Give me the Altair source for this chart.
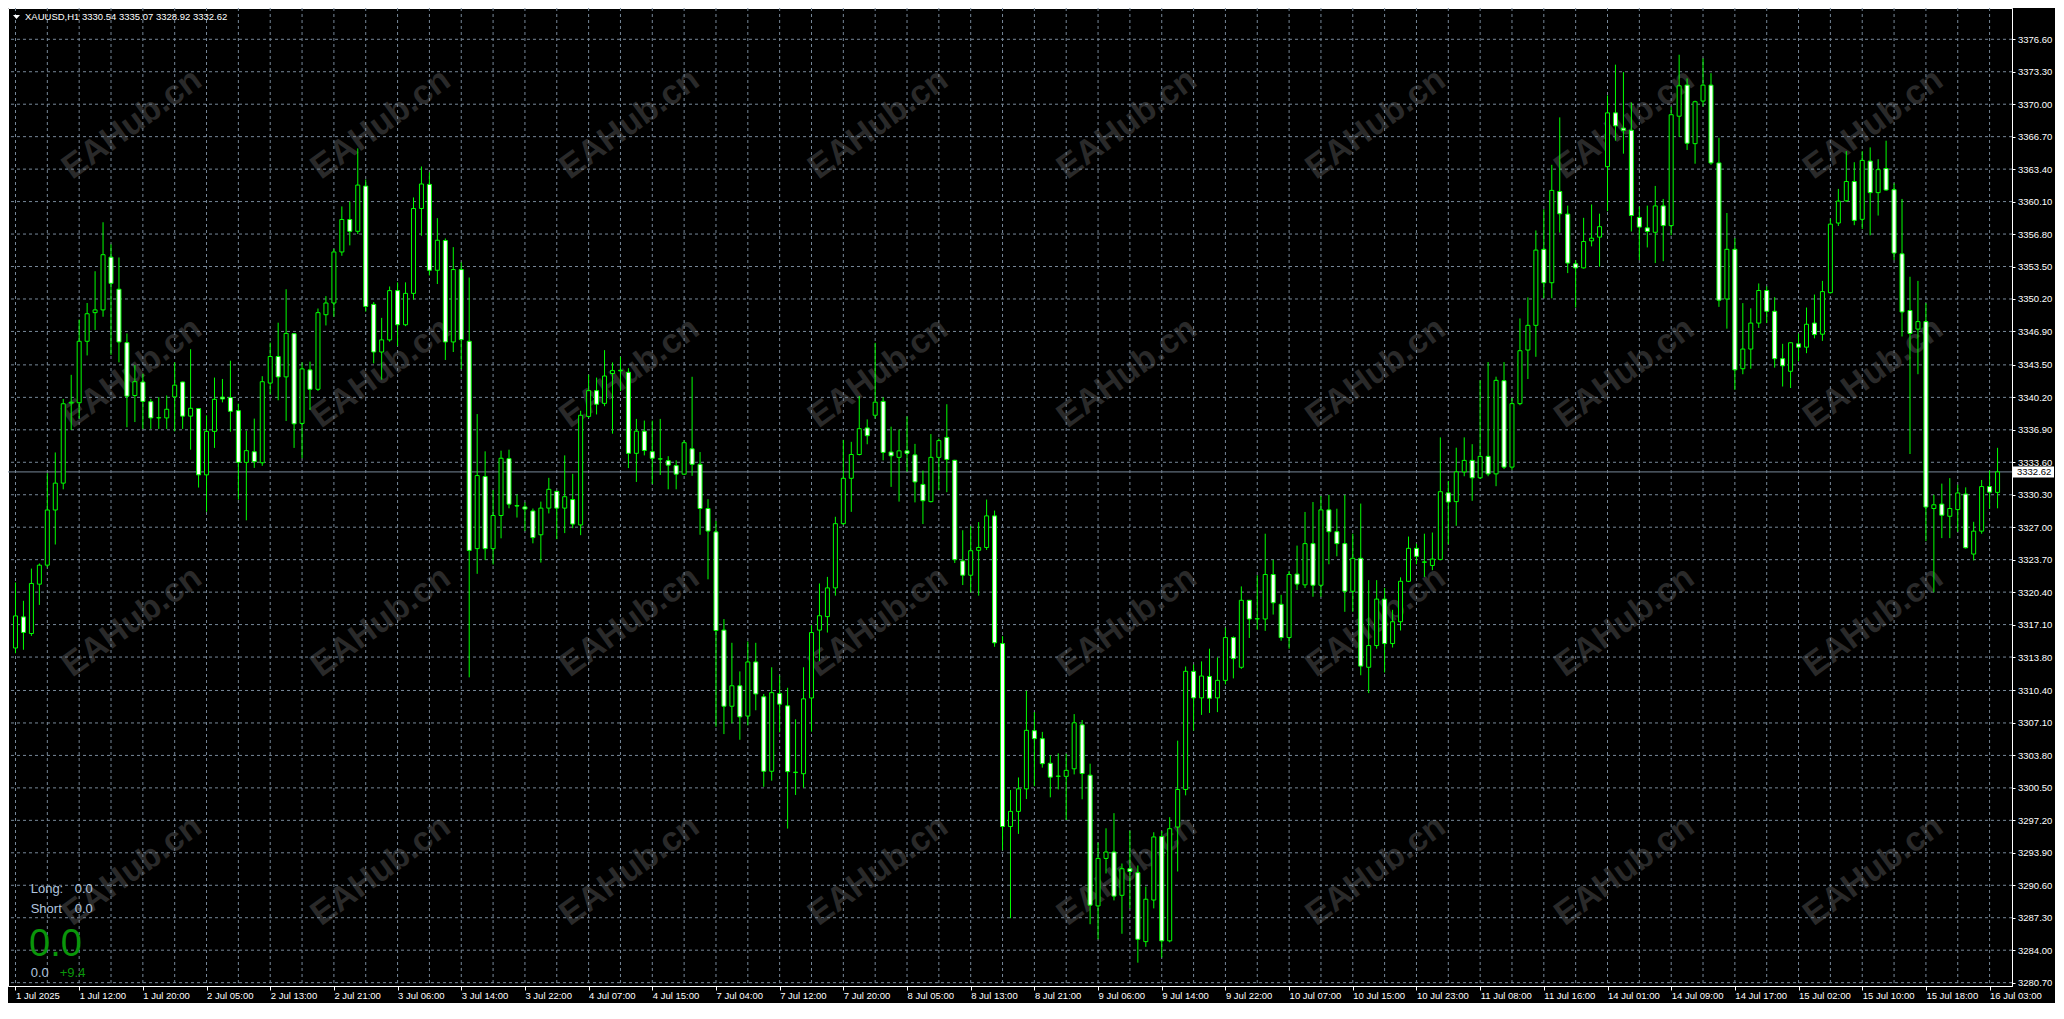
import altair as alt
import pandas as pd

# ---------------- data ----------------
opens = [3314.72,3317.88,3316.19,3321.21,3323.14,3328.75,3331.48,3339.62,3339.65,3345.90,
 3348.81,3349.09,3354.45,3351.19,3345.76,3340.39,3341.76,3339.76,3338.11,3338.11,
 3340.25,3341.76,3338.29,3339.06,3332.32,3336.74,3340.22,3340.18,3338.85,3333.59,
 3334.67,3333.55,3341.65,3344.35,3342.28,3346.67,3337.55,3342.99,3341.02,3348.60,
 3349.79,3354.98,3358.28,3357.08,3361.68,3349.65,3344.81,3346.04,3351.05,3347.58,
 3350.77,3359.40,3361.85,3353.12,3356.14,3345.83,3353.19,3345.90,3324.82,3332.15,
 3324.82,3328.19,3333.97,3329.20,3329.06,3328.65,3326.23,3328.94,3330.64,3328.94,
 3329.81,3327.23,3338.26,3340.88,3339.59,3342.62,3342.90,3342.75,3334.51,3336.76,
 3334.68,3333.93,3333.76,3333.26,3332.39,3334.97,3333.39,3328.90,3326.52,3316.54,
 3308.80,3310.88,3307.80,3313.30,3309.76,3302.19,3310.09,3308.84,3302.06,3301.94,
 3309.64,3316.54,3317.91,3320.83,3327.36,3331.97,3334.39,3337.09,3338.38,3339.79,
 3334.64,3334.10,3334.76,3334.35,3331.35,3329.60,3334.10,3336.13,3333.80,3323.57,
 3322.12,3324.65,3324.94,3328.15,3315.17,3296.57,3298.11,3300.40,3306.31,3305.50,
 3303.00,3301.67,3301.67,3302.44,3306.91,3301.79,3288.50,3293.33,3293.98,3289.58,
 3292.28,3291.88,3284.87,3289.10,3295.55,3284.95,3296.52,3300.34,3312.35,3309.65,
 3311.83,3309.65,3311.43,3315.78,3312.76,3319.57,3317.67,3317.67,3322.19,3319.16,
 3315.78,3322.23,3321.14,3325.33,3321.10,3328.76,3326.54,3325.33,3320.49,3323.84,
 3312.76,3314.97,3319.69,3315.17,3317.39,3321.50,3324.85,3323.44,3323.11,3323.72,
 3330.49,3329.60,3332.62,3333.79,3332.02,3334.20,3332.42,3341.89,3333.11,3339.56,
 3345.01,3347.52,3355.25,3351.85,3361.13,3358.83,3353.78,3353.36,3356.11,3356.49,
 3363.65,3369.12,3367.57,3367.35,3358.49,3357.43,3356.98,3359.66,3357.66,3368.78,
 3371.94,3365.99,3370.32,3371.94,3364.03,3350.20,3355.25,3343.11,3345.11,3347.75,
 3351.06,3348.95,3344.13,3342.85,3345.64,3345.30,3347.75,3346.62,3350.84,3357.92,
 3360.18,3362.14,3358.30,3364.22,3361.01,3363.46,3361.31,3354.79,3349.03,3347.14,
 3347.90,3328.90,3329.35,3328.11,3328.79,3330.37,3324.27,3326.60,3331.13,3330.54]

highs = [3321.38,3319.52,3322.79,3323.31,3332.50,3334.60,3340.04,3342.49,3348.11,3349.79,
 3353.02,3358.00,3355.75,3354.42,3346.70,3343.48,3342.60,3340.04,3340.22,3340.39,
 3343.76,3341.80,3345.09,3339.09,3338.36,3342.21,3342.07,3343.93,3339.55,3336.81,
 3338.04,3342.35,3345.76,3347.79,3351.19,3346.70,3343.76,3343.83,3349.23,3350.49,
 3355.30,3359.61,3360.10,3365.51,3362.34,3349.89,3348.28,3351.47,3351.89,3351.89,
 3360.52,3363.67,3363.07,3358.42,3356.35,3355.47,3353.93,3352.38,3338.50,3334.71,
 3330.78,3334.78,3334.88,3330.33,3329.52,3328.90,3329.60,3332.02,3330.70,3334.30,
 3332.43,3338.84,3342.50,3342.21,3345.00,3343.75,3344.33,3343.16,3338.01,3337.84,
 3337.84,3338.01,3334.22,3333.80,3335.84,3342.29,3334.64,3329.85,3327.65,3317.66,
 3315.25,3312.34,3315.38,3315.25,3310.05,3312.76,3311.92,3310.68,3307.47,3312.76,
 3317.04,3321.28,3321.95,3328.06,3335.88,3335.68,3340.34,3337.96,3345.74,3340.21,
 3337.22,3336.93,3338.26,3335.47,3332.76,3336.47,3336.01,3339.50,3333.85,3326.69,
 3327.11,3327.52,3329.81,3328.69,3315.92,3300.28,3301.56,3310.38,3308.20,3306.19,
 3303.81,3304.01,3303.97,3308.00,3307.40,3302.96,3294.94,3296.39,3297.93,3292.81,
 3296.15,3292.61,3290.47,3295.99,3296.11,3297.52,3305.30,3312.84,3313.04,3313.36,
 3314.65,3313.76,3316.79,3315.90,3320.98,3319.60,3322.11,3326.34,3323.68,3320.13,
 3322.55,3325.13,3328.55,3329.56,3330.17,3330.29,3328.88,3330.29,3326.34,3329.40,
 3321.62,3321.62,3320.82,3318.60,3321.90,3326.05,3325.33,3326.34,3326.46,3336.13,
 3331.70,3335.08,3336.13,3335.44,3341.93,3343.79,3342.30,3343.79,3340.16,3348.22,
 3350.36,3357.17,3359.32,3363.84,3368.66,3359.69,3354.15,3358.45,3359.81,3358.87,
 3370.89,3374.02,3373.26,3370.17,3359.58,3359.69,3361.69,3360.37,3369.76,3375.03,
 3372.62,3370.36,3374.66,3373.15,3366.59,3358.94,3356.38,3349.78,3349.25,3351.78,
 3351.48,3350.38,3345.64,3345.80,3346.69,3349.33,3350.65,3352.04,3358.37,3361.39,
 3365.23,3364.10,3365.23,3365.61,3364.41,3366.29,3361.96,3360.37,3352.46,3352.04,
 3349.78,3330.30,3331.43,3331.99,3331.31,3331.05,3327.55,3331.80,3332.75,3335.07]

lows = [3314.19,3314.54,3315.95,3319.10,3322.90,3325.24,3330.85,3336.88,3338.04,3344.46,
 3347.05,3348.39,3344.53,3343.76,3337.16,3337.69,3336.99,3336.99,3336.99,3336.99,
 3336.74,3336.99,3334.88,3331.03,3328.57,3335.06,3339.69,3336.71,3329.80,3327.70,
 3333.03,3333.24,3340.50,3339.90,3337.80,3335.06,3334.01,3338.92,3340.85,3347.51,
 3348.39,3354.59,3355.65,3356.80,3348.91,3343.65,3342.00,3345.86,3345.41,3347.44,
 3350.14,3356.63,3352.59,3351.72,3344.00,3344.81,3343.06,3311.74,3322.26,3323.66,
 3323.21,3325.87,3328.92,3327.98,3326.61,3325.36,3323.40,3328.40,3325.78,3326.40,
 3326.90,3326.19,3338.10,3338.46,3339.30,3336.51,3340.84,3333.01,3331.60,3334.30,
 3331.39,3332.31,3330.85,3330.85,3332.31,3332.22,3326.23,3321.70,3306.72,3305.97,
 3307.06,3305.39,3306.85,3308.39,3300.61,3301.23,3306.14,3296.36,3299.78,3300.52,
 3306.22,3313.38,3316.29,3320.04,3327.23,3328.56,3334.30,3335.43,3338.05,3333.80,
 3331.10,3329.60,3332.64,3329.52,3327.32,3329.52,3330.77,3330.56,3323.36,3321.12,
 3320.37,3320.04,3324.69,3314.84,3294.16,3287.25,3295.82,3299.36,3300.67,3302.56,
 3299.54,3300.34,3297.24,3301.87,3299.34,3286.64,3285.11,3291.80,3289.06,3285.67,
 3288.25,3282.73,3284.34,3288.25,3283.26,3284.80,3292.00,3299.74,3306.31,3307.92,
 3308.12,3308.20,3311.02,3311.63,3312.60,3315.74,3316.58,3316.46,3318.12,3315.46,
 3314.65,3320.61,3320.82,3319.93,3319.93,3323.23,3324.04,3318.40,3318.40,3311.95,
 3310.14,3314.65,3312.23,3314.77,3316.50,3321.42,3323.23,3321.94,3322.63,3323.64,
 3325.25,3327.14,3332.18,3329.68,3331.90,3332.18,3331.17,3332.91,3332.83,3339.40,
 3342.06,3344.32,3350.27,3350.27,3356.94,3352.83,3349.33,3353.29,3355.55,3353.48,
 3359.13,3366.29,3364.97,3357.06,3354.15,3355.44,3353.85,3354.04,3356.68,3366.67,
 3365.35,3363.95,3369.76,3363.84,3349.40,3347.18,3340.96,3342.55,3343.11,3347.26,
 3347.75,3343.22,3341.30,3341.15,3343.86,3344.69,3346.20,3345.94,3350.76,3357.62,
 3360.07,3357.70,3357.32,3356.68,3358.68,3361.20,3354.15,3346.39,3334.44,3342.55,
 3325.58,3320.38,3325.89,3325.89,3326.53,3324.83,3323.62,3326.34,3328.90,3328.92]

closes = [3317.98,3316.30,3321.28,3323.14,3328.75,3331.48,3339.55,3339.70,3345.90,3348.70,
 3349.09,3354.70,3351.79,3345.83,3340.32,3341.79,3339.79,3338.11,3338.14,3338.99,
 3341.44,3338.29,3339.09,3332.32,3336.74,3340.00,3340.04,3338.78,3333.59,3334.78,
 3333.66,3341.79,3344.35,3342.28,3346.70,3337.51,3343.09,3341.02,3348.81,3349.79,
 3354.98,3358.28,3357.08,3361.78,3349.44,3344.81,3346.04,3351.05,3347.58,3350.77,
 3359.40,3361.89,3353.12,3356.17,3345.83,3353.19,3346.07,3324.64,3332.25,3324.82,
 3328.19,3334.01,3329.34,3329.15,3328.85,3325.94,3328.94,3330.85,3328.94,3330.10,
 3327.32,3338.38,3340.88,3339.50,3342.37,3342.92,3342.95,3334.51,3336.76,3334.80,
 3334.01,3333.95,3333.31,3332.39,3335.59,3333.39,3328.90,3326.61,3316.50,3308.80,
 3310.88,3307.72,3313.30,3310.05,3302.19,3310.18,3309.01,3302.15,3302.10,3309.55,
 3316.29,3318.00,3320.83,3327.36,3331.97,3334.39,3337.01,3336.30,3339.71,3334.60,
 3334.26,3334.76,3334.51,3331.60,3329.69,3334.10,3335.80,3333.89,3323.70,3322.12,
 3324.61,3324.94,3328.15,3315.25,3296.57,3298.11,3300.40,3306.35,3305.50,3302.96,
 3301.59,3301.70,3302.28,3307.11,3301.96,3288.58,3293.33,3293.98,3289.50,3292.28,
 3292.00,3285.11,3289.18,3295.51,3284.95,3296.35,3300.34,3312.35,3309.65,3311.87,
 3309.61,3311.43,3315.78,3313.64,3319.57,3317.67,3317.70,3322.19,3319.32,3315.78,
 3322.19,3321.22,3325.33,3321.10,3328.76,3326.54,3325.33,3320.49,3323.84,3312.88,
 3314.97,3319.69,3315.17,3317.39,3321.50,3324.85,3324.04,3323.47,3323.76,3330.61,
 3329.56,3332.62,3333.79,3332.02,3334.20,3332.42,3341.93,3333.11,3339.56,3344.94,
 3347.52,3355.17,3351.85,3361.24,3358.86,3353.85,3353.36,3356.04,3356.38,3357.55,
 3369.12,3367.80,3367.35,3358.68,3357.51,3357.06,3359.66,3357.66,3368.93,3371.87,
 3366.03,3370.25,3371.94,3364.03,3350.08,3355.25,3343.00,3345.11,3347.75,3351.06,
 3348.95,3344.13,3343.41,3345.75,3345.30,3347.63,3346.58,3350.95,3357.81,3360.15,
 3362.14,3358.19,3364.29,3361.01,3363.35,3361.28,3354.87,3348.88,3346.69,3347.90,
 3329.05,3329.28,3328.22,3328.90,3330.48,3324.91,3326.60,3331.13,3330.56,3332.62]

x_labels = ["1 Jul 2025", "1 Jul 12:00", "1 Jul 20:00", "2 Jul 05:00", "2 Jul 13:00",
            "2 Jul 21:00", "3 Jul 06:00", "3 Jul 14:00", "3 Jul 22:00", "4 Jul 07:00",
            "4 Jul 15:00", "7 Jul 04:00", "7 Jul 12:00", "7 Jul 20:00", "8 Jul 05:00",
            "8 Jul 13:00", "8 Jul 21:00", "9 Jul 06:00", "9 Jul 14:00", "9 Jul 22:00",
            "10 Jul 07:00", "10 Jul 15:00", "10 Jul 23:00", "11 Jul 08:00", "11 Jul 16:00",
            "14 Jul 01:00", "14 Jul 09:00", "14 Jul 17:00", "15 Jul 02:00", "15 Jul 10:00",
            "15 Jul 18:00", "16 Jul 03:00"]

price_ticks = [3376.60, 3373.30, 3370.00, 3366.70, 3363.40, 3360.10, 3356.80, 3353.50,
               3350.20, 3346.90, 3343.50, 3340.20, 3336.90, 3333.60, 3330.30, 3327.00,
               3323.70, 3320.40, 3317.10, 3313.80, 3310.40, 3307.10, 3303.80, 3300.50,
               3297.20, 3293.90, 3290.60, 3287.30, 3284.00, 3280.70]

symbol = "XAUUSD,H1"
panel_labels = ["Long:", "Short"]
panel_values = ["0.0", "0.0"]
big_value = "0.0"
small_left = "0.0"
small_right = "+9.4"
watermark = "EAHub.cn"

# ---------------- layout / style ----------------
W, H = 2004, 978
XDOM = [-0.3125, 250.1875]
YDOM = [3280.36, 3379.78]
FONT = "Liberation Sans"
LIME = "#00FF00"
GRIDC = "#778899"
STEEL = "#B0C4DE"
GREEN = "#0A960A"

n = len(opens)
df = pd.DataFrame({"i": list(range(n)), "open": opens, "high": highs,
                   "low": lows, "close": closes})
df["dir"] = ["up" if c >= o else "down" for o, c in zip(opens, closes)]

xs = alt.Scale(domain=XDOM, nice=False, zero=False)
ys = alt.Scale(domain=YDOM, nice=False, zero=False)

label_expr = "[" + ",".join("'" + s + "'" for s in x_labels) + "][round(datum.value / 8)]"

x_axis = alt.Axis(
    values=list(range(0, 8 * len(x_labels), 8)), labelExpr=label_expr,
    labelAlign="left", labelBaseline="top", labelColor="white", labelFont=FONT,
    labelFontSize=9.5, labelPadding=0, labelOverlap=False, labelFlush=False,
    labelBound=False, tickColor="white", tickSize=4, domainColor="white",
    grid=False, title=None)
y_axis = alt.Axis(
    orient="right", values=price_ticks, format=".2f", labelColor="white",
    labelFont=FONT, labelFontSize=9.5, labelPadding=2.5, labelOverlap=False,
    labelFlush=False, labelBound=False, labelBaseline="middle", tickColor="white",
    tickSize=3, domainColor="white", grid=False, title=None)


def X(field):
    return alt.X(field, scale=xs, axis=x_axis)


def Y(field):
    return alt.Y(field, scale=ys, axis=y_axis)


# watermark grid, in bar / price units (layout only)
wm_rows = []
for j in range(4):
    for k in range(8):
        wm_rows.append({"wx": 14.66 + 31.25 * k, "wy": 3367.98 - 25.3 * j, "t": watermark})
wm_df = pd.DataFrame(wm_rows)

wm = alt.Chart(wm_df).mark_text(
    angle=324, font=FONT, fontSize=34, fontWeight="bold", color="#2a2a2a",
    align="center", baseline="middle"
).encode(x=X("wx:Q"), y=Y("wy:Q"), text="t:N")

hgrid = alt.Chart(pd.DataFrame({"p": price_ticks})).mark_rule(
    color=GRIDC, strokeDash=[3, 3], strokeWidth=1
).encode(y=Y("p:Q"))

vgrid = alt.Chart(pd.DataFrame({"g": list(range(0, n, 4))})).mark_rule(
    color=GRIDC, strokeDash=[3, 3], strokeWidth=1
).encode(x=X("g:Q"))

last = pd.DataFrame({"p": [closes[-1]], "t": [f"{closes[-1]:.2f}"]})

price_line = alt.Chart(last).mark_rule(color=GRIDC, strokeWidth=1).encode(y=Y("p:Q"))

wicks = alt.Chart(df).mark_rule(color=LIME, strokeWidth=1).encode(
    x=X("i:Q"), y=Y("low:Q"), y2="high:Q"
)

bodies = alt.Chart(df).mark_bar(width=4, stroke=LIME, strokeWidth=1).encode(
    x=X("i:Q"), y=Y("open:Q"), y2="close:Q",
    fill=alt.Fill("dir:N", scale=alt.Scale(domain=["up", "down"], range=["#000000", "#FFFFFF"]),
                  legend=None),
)

box = alt.Chart(last).mark_rule(color="white", strokeWidth=11).encode(
    y=Y("p:Q"), x=alt.value(W + 1), x2=alt.value(W + 42)
)
box_text = alt.Chart(last).mark_text(
    align="left", baseline="middle", color="black", font=FONT, fontSize=9.5
).encode(y=Y("p:Q"), x=alt.value(W + 5), text="t:N")

header_df = pd.DataFrame({"t": [symbol + "  " + " ".join(
    f"{v:.2f}" for v in (opens[-1], highs[-1], lows[-1], closes[-1]))]})
header = alt.Chart(header_df).mark_text(
    align="left", baseline="middle", color="white", font=FONT, fontSize=9.5
).encode(x=alt.value(17), y=alt.value(9), text="t:N")

tri = alt.Chart(header_df).mark_point(
    shape="M-1,-0.55L1,-0.55L0,0.55Z", filled=True, color="white", size=49, opacity=1
).encode(x=alt.value(8.5), y=alt.value(9))


def txt(s, x, y, color, size):
    return alt.Chart(pd.DataFrame({"t": [s]})).mark_text(
        align="left", baseline="alphabetic", color=color, font=FONT, fontSize=size
    ).encode(x=alt.value(x), y=alt.value(y), text="t:N")


panel = [
    txt(panel_labels[0], 22.7, H - 93.4, STEEL, 13),
    txt(panel_values[0], 66.7, H - 93.4, STEEL, 13),
    txt(panel_labels[1], 22.7, H - 73.4, STEEL, 13),
    txt(panel_values[1], 66.7, H - 73.4, STEEL, 13),
    txt(big_value, 21, H - 30, GREEN, 38),
    txt(small_left, 22.7, H - 9.4, STEEL, 13),
    txt(small_right, 51.7, H - 9.4, GREEN, 13),
]

chart = alt.layer(
    wm, hgrid, vgrid, price_line, wicks, bodies, box, box_text, tri, header, *panel
).properties(
    width=W, height=H, background="black",
    padding={"left": 0, "top": 0, "right": 43, "bottom": 17},
    autosize=alt.AutoSizeParams(type="none"),
).configure_view(
    stroke="white", strokeWidth=1, fill="black"
).configure_axis(grid=False, labelFlush=False, labelOverlap=False, labelBound=False)

chart.save("out.html", embed_options={"renderer": "svg", "actions": False})
